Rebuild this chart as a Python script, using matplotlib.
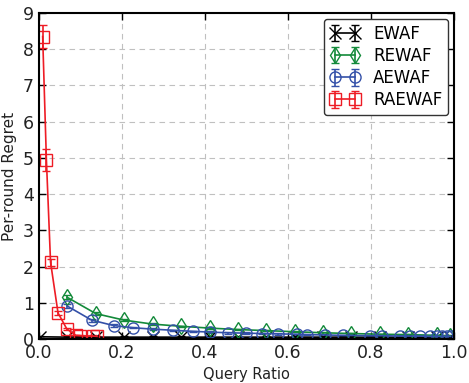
import matplotlib
matplotlib.use('Agg')
import matplotlib.pyplot as plt

# EWAF
ewaf_x = [0.003, 0.068, 0.137, 0.205, 0.274, 0.342, 0.411, 0.479, 0.548,
          0.616, 0.685, 0.753, 0.822, 0.890, 0.959, 0.99]
ewaf_y = [0.06, 0.05, 0.05, 0.05, 0.05, 0.05, 0.05, 0.05, 0.05,
          0.05, 0.05, 0.05, 0.05, 0.05, 0.05, 0.05]
ewaf_err = [0.02] * len(ewaf_x)

# REWAF
rewaf_x = [0.068, 0.137, 0.205, 0.274, 0.342, 0.411, 0.479, 0.548, 0.616,
           0.685, 0.753, 0.822, 0.890, 0.959, 0.99]
rewaf_y = [1.15, 0.7, 0.52, 0.41, 0.35, 0.3, 0.26, 0.23, 0.2,
           0.17, 0.15, 0.13, 0.12, 0.1, 0.09]
rewaf_err = [0.06, 0.04, 0.03, 0.03, 0.02, 0.02, 0.02, 0.02, 0.02,
             0.02, 0.02, 0.02, 0.02, 0.02, 0.02]

# AEWAF
aewaf_x = [0.068, 0.127, 0.18, 0.227, 0.275, 0.323, 0.371, 0.412, 0.456,
           0.5, 0.537, 0.576, 0.621, 0.645, 0.689, 0.733, 0.798, 0.827,
           0.87, 0.894, 0.918, 0.942, 0.959, 0.971, 0.983, 0.992]
aewaf_y = [0.91, 0.52, 0.37, 0.31, 0.27, 0.24, 0.21, 0.19, 0.17,
           0.16, 0.15, 0.14, 0.13, 0.12, 0.11, 0.1, 0.09, 0.09,
           0.08, 0.08, 0.08, 0.07, 0.07, 0.07, 0.07, 0.07]
aewaf_err = [0.06, 0.04, 0.03, 0.02, 0.02, 0.02, 0.02, 0.02, 0.02,
             0.02, 0.02, 0.02, 0.02, 0.02, 0.02, 0.02, 0.02, 0.02,
             0.02, 0.02, 0.02, 0.02, 0.02, 0.02, 0.02, 0.02]

# RAEWAF
raewaf_x = [0.009, 0.018, 0.028, 0.046, 0.067, 0.089, 0.10, 0.13, 0.14]
raewaf_y = [8.35, 4.95, 2.12, 0.72, 0.28, 0.1, 0.09, 0.08, 0.07]
raewaf_err = [0.32, 0.3, 0.1, 0.05, 0.03, 0.02, 0.02, 0.02, 0.02]

fig = plt.figure(figsize=(4.69, 3.83), dpi=100)
ax = fig.add_axes([0.083, 0.115, 0.885, 0.851])

series = [
    ('EWAF', ewaf_x, ewaf_y, ewaf_err, 'k', 'x'),
    ('REWAF', rewaf_x, rewaf_y, rewaf_err, '#138a3a', 'd'),
    ('AEWAF', aewaf_x, aewaf_y, aewaf_err, '#3350a8', 'o'),
    ('RAEWAF', raewaf_x, raewaf_y, raewaf_err, '#ee1c25', 's'),
]
for name, x, y, err, c, m in series:
    ax.errorbar(x, y, yerr=err, color=c, marker=m, ms=8, mfc='none',
                mec=c, mew=1.0, lw=1.2, capsize=3, elinewidth=1.2,
                label=name)

ax.set_xlim(0, 1.0)
ax.set_ylim(0, 9)
ax.set_xticks([0.0, 0.2, 0.4, 0.6, 0.8, 1.0])
ax.set_yticks(range(0, 10))
ax.tick_params(direction='in', top=True, right=True, labelsize=12.5,
               length=5, width=1, labelcolor='#222222')
ax.grid(True, linestyle=(0, (5, 4)), color='#c0c0c0', linewidth=0.8)
for s in ax.spines.values():
    s.set_linewidth(1.5)
ax.set_xlabel('Query Ratio', fontsize=10.5, color='#222222')
ax.set_ylabel('Per-round Regret', fontsize=11, color='#222222')

ax.legend(loc='upper right', fontsize=12, numpoints=2, fancybox=True,
          framealpha=1.0, edgecolor='#333333', handlelength=1.8,
          borderaxespad=0.35, labelspacing=0.25, borderpad=0.35)

fig.savefig('out.png', dpi=100)
